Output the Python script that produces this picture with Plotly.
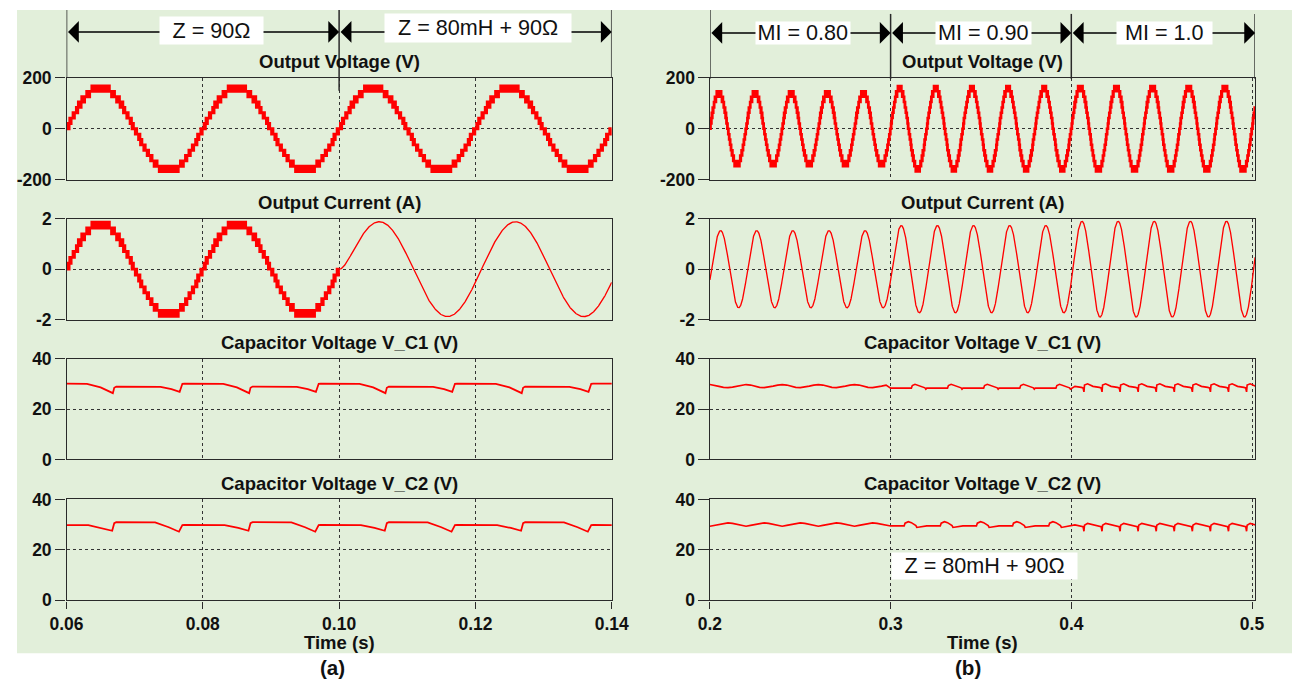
import numpy as np
import plotly.graph_objects as go

W, H = 1292, 681           # target picture size
# page placement of the figure as observed in the rendered picture
VIEW_SCALE = 0.972
VIEW_OFF_X, VIEW_OFF_Y = 8.8, 1.3
BODY_MARGIN = 8
FW = int(round((W - VIEW_OFF_X) / VIEW_SCALE - BODY_MARGIN))
FH = int(round((H - VIEW_OFF_Y) / VIEW_SCALE - BODY_MARGIN))
K = 1.0 / VIEW_SCALE

RED = "#ff0000"
BG = "#e2efda"
INK = "#111111"
AXC = "#2a2a2a"
FONT = "Liberation Sans, Arial, Helvetica, sans-serif"

# ------------------------------------------------------------------
# Values
# ------------------------------------------------------------------
FUND_HZ = 50.0            # fundamental frequency (one cycle = 20 ms)
LEVEL_STEP_V = 21.0       # height of one staircase step of the inverter
MAX_LEVEL = 8             # number of positive steps (8 x 21 V = 168 V)
CARRIER_HZ = 4000.0       # switching between adjacent levels

panel_titles = ["Output Voltage (V)", "Output Current (A)",
                "Capacitor Voltage V_C1 (V)", "Capacitor Voltage V_C2 (V)"]
y_ranges = [[-200, 200], [-2, 2], [0, 40], [0, 40]]
y_tickvals = [[-200, 0, 200], [-2, 0, 2], [0, 20, 40], [0, 20, 40]]
y_ticktext = [["-200", "0", "200"], ["-2", "0", "2"], ["0", "20", "40"], ["0", "20", "40"]]

# (a) load step at 0.10 s
left_t_range = [0.06, 0.14]
left_t_ticks = [0.06, 0.08, 0.10, 0.12, 0.14]
left_t_ticktext = ["0.06", "0.08", "0.10", "0.12", "0.14"]
left_phase_zero_t = 0.06
left_load_change_t = 0.10
left_v_ref_peak = 165.0
left_r_ohm = 90.0
left_i_peak_rl = 1.88
left_i_lag_s = 0.0009
left_rl_tau_s = 0.0009
left_segment_labels = ["Z = 90Ω", "Z = 80mH + 90Ω"]

# (b) modulation index steps
right_t_range = [0.2, 0.5017]
right_t_ticks = [0.2, 0.3, 0.4, 0.5]
right_t_ticktext = ["0.2", "0.3", "0.4", "0.5"]
right_phase_zero_t = 0.2
mi_bounds_t = [0.2, 0.3, 0.4, 0.5017]
mi_labels = ["MI = 0.80", "MI = 0.90", "MI = 1.0"]
mi_v_ref_peak = [142.0, 159.0, 166.0]
mi_i_peak = [1.53, 1.73, 1.90]
right_i_lag_s = 0.0009
right_load_label = "Z = 80mH + 90Ω"

# capacitor voltages: one repeating ripple cycle (time in cycle [s], value [V])
left_cap_period = 0.02
left_cap_t0 = 0.057
left_vc1_cyc_t = [0.0, 0.0003, 0.0060, 0.0080, 0.0098, 0.0100, 0.0103, 0.0168, 0.0184, 0.0196, 0.0200]
left_vc1_cyc_v = [30.0, 30.1, 30.0, 28.6, 26.3, 28.4, 28.9, 28.8, 27.9, 26.8, 30.0]
left_vc2_cyc_t = [0.0, 0.0003, 0.0062, 0.0082, 0.0097, 0.0100, 0.0103, 0.0160, 0.0180, 0.0195, 0.0200]
left_vc2_cyc_v = [29.8, 29.9, 29.8, 28.7, 27.6, 30.6, 31.0, 30.9, 29.0, 27.2, 29.8]

right_cap_period = [0.02, 0.02, 0.01]
right_cap_t0 = [0.2, 0.3, 0.407]
right_vc1_s1_t = [0.0, 0.0025, 0.005, 0.0075, 0.01, 0.0125, 0.015, 0.0175, 0.02]
right_vc1_s1_v = [29.7, 29.5, 29.0, 28.6, 28.5, 28.7, 29.1, 29.5, 29.7]
right_vc1_s2_t = [0.0, 0.0115, 0.0120, 0.0135, 0.0160, 0.0190, 0.0195, 0.0200]
right_vc1_s2_v = [28.3, 28.3, 29.3, 29.8, 29.3, 28.4, 27.9, 28.3]
right_vc1_s3_t = [0.0, 0.0003, 0.0020, 0.0050, 0.0085, 0.0095, 0.0100]
right_vc1_s3_v = [26.8, 29.5, 30.0, 29.0, 28.6, 28.4, 26.8]
right_vc2_s1_t = [0.0, 0.0025, 0.005, 0.0075, 0.01, 0.0125, 0.015, 0.0175, 0.02]
right_vc2_s1_v = [29.4, 29.7, 30.1, 30.5, 30.7, 30.5, 30.1, 29.7, 29.4]
right_vc2_s2_t = [0.0, 0.0075, 0.0080, 0.0098, 0.0115, 0.0140, 0.0145, 0.0200]
right_vc2_s2_v = [29.5, 29.5, 30.6, 31.2, 30.8, 29.6, 28.9, 29.5]
right_vc2_s3_t = [0.0, 0.0003, 0.0020, 0.0050, 0.0085, 0.0095, 0.0100]
right_vc2_s3_v = [27.4, 29.8, 30.5, 29.9, 29.5, 29.2, 27.4]

# ------------------------------------------------------------------
# Waveform construction
# ------------------------------------------------------------------
W0 = 2 * np.pi * FUND_HZ


def pwm_staircase(t, vref):
    x = np.clip(vref / LEVEL_STEP_V, -MAX_LEVEL, MAX_LEVEL)
    lo = np.floor(x)
    frac = x - lo
    ph = np.mod(t * CARRIER_HZ, 1.0)
    tri = 1.0 - np.abs(2.0 * ph - 1.0)
    lvl = lo + (frac > tri)
    lvl = np.where(frac < 0.08, lo, lvl)
    lvl = np.where(frac > 0.92, lo + 1, lvl)
    lvl = np.clip(lvl, -MAX_LEVEL, MAX_LEVEL)
    return lvl * LEVEL_STEP_V


def compress(t, v):
    idx = np.flatnonzero(np.diff(v) != 0) + 1
    keep = np.r_[0, idx, len(v) - 1]
    return t[keep], v[keep]


def tile(cyc_t, cyc_v, t0, period, a, b):
    ct = np.asarray(cyc_t)[:-1]
    cv = np.asarray(cyc_v)[:-1]
    k0 = int(np.floor((a - t0) / period)) - 1
    k1 = int(np.ceil((b - t0) / period)) + 1
    ts = np.concatenate([t0 + k * period + ct for k in range(k0, k1)])
    vs = np.concatenate([cv for _ in range(k0, k1)])
    m = (ts >= a - 1e-9) & (ts < b - 1e-9)
    return ts[m], vs[m]


# (a) voltage
tl = np.arange(left_t_range[0], left_t_range[1] + 1e-6, 2e-6)
vl = pwm_staircase(tl, left_v_ref_peak * np.sin(W0 * (tl - left_phase_zero_t)))
tl_v, vl_v = compress(tl, vl)

# (a) current: resistive part follows the voltage, RL part is smooth
m_r = tl <= left_load_change_t
tl_ir, il_r = compress(tl[m_r], vl[m_r] / left_r_ohm)
tl_s = np.arange(left_load_change_t, left_t_range[1] + 1e-5, 5e-5)
phi_l = W0 * left_i_lag_s
il_s = left_i_peak_rl * (np.sin(W0 * (tl_s - left_phase_zero_t) - phi_l)
                         + np.sin(phi_l) * np.exp(-(tl_s - left_load_change_t) / left_rl_tau_s))

# (a) capacitors
pad = left_cap_period
tl_c1, vl_c1 = tile(left_vc1_cyc_t, left_vc1_cyc_v, left_cap_t0, left_cap_period,
                    left_t_range[0] - pad, left_t_range[1] + pad)
tl_c2, vl_c2 = tile(left_vc2_cyc_t, left_vc2_cyc_v, left_cap_t0, left_cap_period,
                    left_t_range[0] - pad, left_t_range[1] + pad)

# (b) voltage / current
tr = np.arange(right_t_range[0], right_t_range[1] + 1e-6, 2e-6)
seg = np.clip(np.searchsorted(mi_bounds_t, tr, side="right") - 1, 0, len(mi_labels) - 1)
amp_v = np.asarray(mi_v_ref_peak)[seg]
vr = pwm_staircase(tr, amp_v * np.sin(W0 * (tr - right_phase_zero_t)))
tr_v, vr_v = compress(tr, vr)

tr_s = np.arange(right_t_range[0], right_t_range[1] + 1e-5, 5e-5)
seg_s = np.clip(np.searchsorted(mi_bounds_t, tr_s, side="right") - 1, 0, len(mi_labels) - 1)
ir = np.asarray(mi_i_peak)[seg_s] * np.sin(W0 * (tr_s - right_phase_zero_t) - W0 * right_i_lag_s)


# (b) capacitors
def right_cap(seg_t, seg_v):
    ts, vs = [], []
    for i in range(3):
        a, b = mi_bounds_t[i], mi_bounds_t[i + 1] + (0.001 if i == 2 else 0.0)
        t_, v_ = tile(seg_t[i], seg_v[i], right_cap_t0[i], right_cap_period[i], a, b)
        ts.append(t_)
        vs.append(v_)
    return np.concatenate(ts), np.concatenate(vs)


tr_c1, vr_c1 = right_cap([right_vc1_s1_t, right_vc1_s2_t, right_vc1_s3_t],
                         [right_vc1_s1_v, right_vc1_s2_v, right_vc1_s3_v])
tr_c2, vr_c2 = right_cap([right_vc2_s1_t, right_vc2_s2_t, right_vc2_s3_t],
                         [right_vc2_s1_v, right_vc2_s2_v, right_vc2_s3_v])

# ------------------------------------------------------------------
# Figure
# ------------------------------------------------------------------
fig = go.Figure()


def add(x, y, ax_i, width, shape="linear"):
    sfx = "" if ax_i == 1 else str(ax_i)
    fig.add_trace(go.Scatter(x=x, y=y, mode="lines", xaxis="x" + sfx, yaxis="y" + sfx,
                             line=dict(color=RED, width=width * K, shape=shape),
                             hoverinfo="skip", showlegend=False))


add(tl_v, vl_v, 1, 2.8, "hv")
add(tl_ir, il_r, 2, 2.8, "hv")
add(tl_s, il_s, 2, 1.3)
add(tl_c1, vl_c1, 3, 1.7)
add(tl_c2, vl_c2, 4, 1.7)
add(tr_v, vr_v, 5, 2.4, "hv")
add(tr_s, ir, 6, 1.3)
add(tr_c1, vr_c1, 7, 1.6)
add(tr_c2, vr_c2, 8, 1.6)


def px_x(p):
    f = (p - VIEW_OFF_X) / VIEW_SCALE - BODY_MARGIN
    return min(max(f / FW, 0.0), 1.0)


def px_y(p):
    f = (p - VIEW_OFF_Y) / VIEW_SCALE - BODY_MARGIN
    return min(max(1 - f / FH, 0.0), 1.0)


col_x_px = [(66, 610), (708, 1252)]
row_y_px = [(77, 179), (218, 319), (358, 459), (499, 600)]

tickfont = dict(family=FONT, size=17 * K, color=INK, weight="bold")
layout = dict(
    width=FW, height=FH, margin=dict(l=0, r=0, t=0, b=0),
    paper_bgcolor="white", plot_bgcolor="rgba(0,0,0,0)",
    showlegend=False, font=dict(family=FONT, color=INK),
)

for c in range(2):
    for r in range(4):
        i = c * 4 + r + 1
        sfx = "" if i == 1 else str(i)
        xr = left_t_range if c == 0 else right_t_range
        xt = left_t_ticks if c == 0 else right_t_ticks
        xtt = left_t_ticktext if c == 0 else right_t_ticktext
        bottom = r == 3
        layout["xaxis" + sfx] = dict(
            domain=[px_x(col_x_px[c][0]), px_x(col_x_px[c][1])], anchor="y" + sfx,
            range=xr, tickvals=xt, ticktext=xtt, showticklabels=bottom,
            ticks="outside" if bottom else "", ticklen=7 * K, tickwidth=1.3, tickcolor=AXC,
            showline=True, mirror=True, linecolor=AXC, linewidth=1.3,
            showgrid=True, gridcolor="#333333", griddash="dot", gridwidth=1.1,
            zeroline=False, tickfont=tickfont, fixedrange=True,
        )
        layout["yaxis" + sfx] = dict(
            domain=[px_y(row_y_px[r][1]), px_y(row_y_px[r][0])], anchor="x" + sfx,
            range=y_ranges[r], tickvals=y_tickvals[r], ticktext=y_ticktext[r],
            ticks="outside", ticklen=10 * K,
            tickwidth=1.3, tickcolor=AXC,
            showline=True, mirror=True, linecolor=AXC, linewidth=1.3,
            showgrid=True, gridcolor="#333333", griddash="dot", gridwidth=1.1,
            zeroline=False, tickfont=tickfont, fixedrange=True,
        )

fig.update_layout(**layout)

shapes = [dict(type="rect", xref="paper", yref="paper", x0=px_x(6), x1=1.0,
               y0=px_y(653), y1=px_y(5), fillcolor=BG, line=dict(width=0), layer="below")]

# segment boundary lines above the top panels
left_bounds = [left_t_range[0], left_load_change_t, left_t_range[1]]
for k, xb in enumerate(left_bounds):
    shapes.append(dict(type="line", xref="x", yref="paper", x0=xb, x1=xb,
                       y0=px_y(90 if k == 1 else 77), y1=px_y(7),
                       line=dict(color=AXC, width=1.5)))
for k, xb in enumerate(mi_bounds_t):
    shapes.append(dict(type="line", xref="x5", yref="paper", x0=xb, x1=xb,
                       y0=px_y(78), y1=px_y(9 if k == 0 else 13),
                       line=dict(color=AXC, width=1.5)))

annotations = []
title_font = dict(family=FONT, size=18 * K, color=INK, weight="bold")
# panel titles
for c in range(2):
    xc = px_x((col_x_px[c][0] + col_x_px[c][1]) / 2)
    for r, ty in enumerate([61, 202, 342, 483]):
        annotations.append(dict(text=panel_titles[r], xref="paper", yref="paper",
                                x=xc, y=px_y(ty), showarrow=False, xanchor="center", yanchor="middle",
                                font=title_font))
    annotations.append(dict(text="Time (s)", xref="paper", yref="paper", x=xc, y=px_y(642),
                            showarrow=False, xanchor="center", yanchor="middle", font=title_font))

sub_font = dict(family=FONT, size=20 * K, color=INK, weight="bold")
annotations.append(dict(text="(a)", xref="paper", yref="paper", x=px_x(331), y=px_y(667),
                        showarrow=False, xanchor="center", yanchor="middle", font=sub_font))
annotations.append(dict(text="(b)", xref="paper", yref="paper", x=px_x(966), y=px_y(667),
                        showarrow=False, xanchor="center", yanchor="middle", font=sub_font))


def double_arrow(xref, a, b, ypx):
    annotations.append(dict(text="", xref=xref, yref="paper", x=b, y=px_y(ypx),
                            axref=xref, ayref="pixel", ax=a, ay=0, showarrow=True,
                            arrowhead=1, startarrowhead=1, arrowside="end+start",
                            arrowwidth=1.5, arrowsize=2.4, startarrowsize=2.4,
                            arrowcolor="#000000", standoff=0, startstandoff=0))


for i in range(2):
    double_arrow("x", left_bounds[i], left_bounds[i + 1], 31)
for i in range(3):
    double_arrow("x5", mi_bounds_t[i], mi_bounds_t[i + 1], 32)


def label_box(text, cx, cy, w, h):
    annotations.append(dict(text=text, xref="paper", yref="paper", x=px_x(cx), y=px_y(cy),
                            showarrow=False, xanchor="center", yanchor="middle",
                            width=w * K, height=h * K, bgcolor="white", borderpad=0,
                            font=dict(family=FONT, size=21 * K, color=INK)))


label_box(left_segment_labels[0], 211, 30, 100, 26)
label_box(left_segment_labels[1], 477, 27, 181, 27)
label_box(mi_labels[0], 801, 32, 91, 21)
label_box(mi_labels[1], 981, 32, 92, 21)
label_box(mi_labels[2], 1162, 32, 92, 21)
label_box(right_load_label, 982, 566, 180, 25)

fig.update_layout(shapes=shapes, annotations=annotations)
fig.write_html("out.html")
